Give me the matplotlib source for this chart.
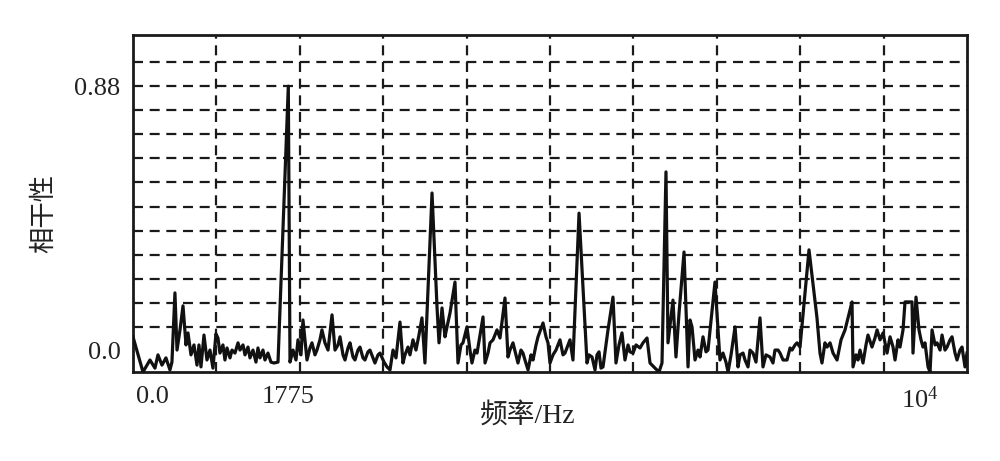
"""Coherence spectrum: 相干性 vs 频率/Hz, dashed grid, peak at 1775 Hz."""
import matplotlib
matplotlib.use('Agg')
import matplotlib.pyplot as plt
import numpy as np

plt.rcParams['font.family'] = ['Liberation Serif', 'Noto Sans CJK SC']

# frequency (Hz) and coherence
freq_hz = [-247, -117, -26, 39, 78, 130, 182, 234, 260, 299, 326, 365, 404, 443, 469,
           508, 547, 586, 612, 638, 677, 716, 755, 794, 833, 859, 885, 924, 950, 977,
           1016, 1042, 1081, 1120, 1146, 1185, 1211, 1250, 1276, 1315, 1354, 1380, 1406,
           1445, 1471, 1510, 1549, 1588, 1641, 1775, 1797, 1836, 1875, 1901, 1940, 1966,
           2018, 2057, 2083, 2122, 2148, 2187, 2213, 2252, 2292, 2344, 2383, 2422, 2448,
           2487, 2513, 2552, 2578, 2617, 2643, 2682, 2708, 2747, 2773, 2812, 2838, 2877,
           2903, 2943, 2969, 3021, 3060, 3099, 3138, 3177, 3229, 3268, 3294, 3333, 3359,
           3398, 3437, 3476, 3515, 3554, 3646, 3711, 3737, 3776, 3815, 3841, 3880, 3945,
           3984, 4023, 4049, 4101, 4140, 4166, 4205, 4232, 4271, 4310, 4336, 4375, 4401,
           4440, 4492, 4531, 4596, 4635, 4661, 4700, 4739, 4765, 4804, 4830, 4856, 4896,
           4935, 4961, 5000, 5026, 5091, 5130, 5156, 5182, 5221, 5260, 5312, 5351, 5377,
           5416, 5442, 5481, 5560, 5664, 5690, 5729, 5768, 5794, 5820, 5846, 5872, 5937,
           6002, 6041, 6080, 6119, 6158, 6198, 6224, 6263, 6302, 6354, 6393, 6445, 6484,
           6549, 6601, 6640, 6692, 6718, 6783, 6822, 6862, 6927, 6979, 7005, 7031, 7070,
           7109, 7135, 7174, 7213, 7239, 7330, 7395, 7434, 7473, 7500, 7539, 7591, 7630,
           7656, 7695, 7721, 7760, 7786, 7825, 7864, 7916, 7955, 7994, 8046, 8085, 8111,
           8151, 8177, 8216, 8268, 8307, 8333, 8372, 8398, 8437, 8554, 8658, 8697, 8723,
           8762, 8789, 8828, 8867, 8919, 8971, 9023, 9114, 9127, 9166, 9192, 9218, 9257,
           9296, 9322, 9374, 9413, 9440, 9479, 9518, 9570, 9609, 9648, 9674, 9713, 9739,
           9778, 9804, 9895, 9908, 9947, 9986, 10012, 10038, 10064, 10104, 10130, 10156,
           10195, 10221, 10260, 10286, 10325, 10351, 10390, 10416, 10455, 10481, 10520,
           10546, 10585, 10611]

coherence = [0.047, -0.070, -0.030, -0.057, -0.013, -0.047, -0.023, -0.063, -0.037, 0.193,
             0.003, 0.070, 0.150, 0.020, 0.060, -0.013, 0.020, -0.047, 0.020, -0.053,
             0.053, -0.030, 0.003, -0.057, 0.057, 0.043, -0.007, 0.020, -0.030, 0.010,
             -0.023, 0.003, -0.007, 0.027, 0.003, 0.020, -0.013, 0.013, -0.023, 0.003,
             -0.037, 0.010, -0.023, 0.003, -0.030, -0.007, -0.037, -0.040, -0.037, 0.880,
             -0.037, 0.003, -0.030, 0.037, -0.013, 0.103, -0.030, 0.010, 0.027, -0.013,
             0.003, 0.037, 0.070, 0.027, 0.003, 0.120, 0.003, 0.020, 0.047, -0.013,
             -0.030, 0.010, 0.027, -0.020, -0.030, 0.003, 0.013, -0.023, -0.030, -0.003,
             0.003, -0.023, -0.040, -0.013, -0.007, -0.037, -0.053, -0.063, 0.003, -0.023,
             0.096, -0.040, -0.013, 0.013, -0.013, 0.037, 0.003, 0.053, 0.110, -0.040,
             0.525, 0.146, 0.027, 0.143, 0.047, 0.080, 0.126, 0.229, -0.040, 0.020,
             0.027, 0.080, 0.003, -0.040, 0.003, -0.007, 0.053, 0.113, -0.040, -0.007,
             0.027, 0.037, 0.070, 0.043, 0.176, -0.020, 0.003, 0.027, -0.013, -0.040,
             0.003, -0.007, -0.030, -0.063, -0.013, -0.030, 0.020, 0.047, 0.093, 0.047,
             0.027, -0.040, -0.013, 0.003, 0.037, -0.013, -0.007, 0.020, 0.037, -0.030,
             0.458, -0.040, -0.013, -0.020, -0.063, -0.013, -0.003, -0.057, -0.053, 0.070,
             0.179, -0.040, 0.020, 0.060, -0.030, 0.020, -0.003, -0.007, 0.020, 0.010,
             0.027, 0.043, -0.040, -0.057, -0.070, -0.040, 0.595, 0.027, 0.169, -0.020,
             0.126, 0.329, -0.053, 0.103, 0.080, -0.030, 0.003, -0.020, 0.047, -0.003,
             0.003, 0.229, -0.030, -0.007, -0.037, -0.070, -0.013, 0.080, -0.053, -0.013,
             -0.007, -0.030, -0.053, 0.003, -0.007, -0.037, 0.110, -0.053, -0.013, -0.020,
             -0.040, 0.003, 0.003, -0.007, -0.030, -0.030, 0.010, 0.003, 0.020, 0.027,
             0.013, 0.336, 0.110, -0.007, -0.040, 0.027, 0.013, 0.027, -0.007, -0.030,
             0.037, 0.070, 0.163, -0.053, -0.013, -0.030, 0.003, -0.040, 0.020, 0.053,
             0.013, 0.043, 0.070, 0.037, 0.060, -0.007, 0.047, 0.013, -0.030, 0.037,
             0.013, 0.070, 0.163, 0.163, -0.007, 0.179, 0.070, 0.037, 0.013, 0.027,
             -0.053, -0.070, 0.070, 0.020, 0.027, 0.003, 0.053, 0.003, 0.013, 0.037,
             0.047, -0.007, -0.030, 0.003, 0.013, -0.053, -0.007]

ytick_vals = [0.0, 0.88]
ytick_text = ['0.0', '0.88']
xtick_vals = [0, 1775, 10000]
xtick_text = ['0.0', '1775', '$\\mathregular{10^4}$']

fig = plt.figure(figsize=(10, 4.61), dpi=100)
ax = fig.add_axes([0.133, 0.193, 0.834, 0.731])

x_lo, x_hi = freq_hz[0], freq_hz[-1]
ax.set_xlim(x_lo, x_hi)
ax.set_ylim(-0.07, 1.05)

# dashed grid: 10 equal columns, rows every 0.08
grid_kw = dict(color='#1a1a1a', lw=1.6, linestyle=(0, (4.5, 3)), zorder=1)
for gx in np.linspace(x_lo, x_hi, 11)[1:-1]:
    ax.axvline(gx, **grid_kw)
for gy in np.arange(1, 13) * 0.08:
    ax.axhline(gy, **grid_kw)

ax.plot(freq_hz, coherence, color='#111111', lw=2.3, zorder=3)

ax.set_xticks(xtick_vals)
ax.set_xticklabels(xtick_text)
ax.set_yticks(ytick_vals)
ax.set_yticklabels(ytick_text)
ax.tick_params(length=0, labelsize=19, colors='#222222')
ax.tick_params(axis='x', pad=10)
ax.tick_params(axis='y', pad=9)

for sp in ax.spines.values():
    sp.set_linewidth(2.0)
    sp.set_color('#1a1a1a')

ax.set_xlabel('频率/Hz', fontsize=20, color='#222222')
ax.xaxis.set_label_coords(0.473, -0.09)
ax.set_ylabel('相干性', fontsize=19, color='#222222')
ax.yaxis.set_label_coords(-0.092, 0.47)

fig.savefig('out.png', dpi=100)
plt.close(fig)
